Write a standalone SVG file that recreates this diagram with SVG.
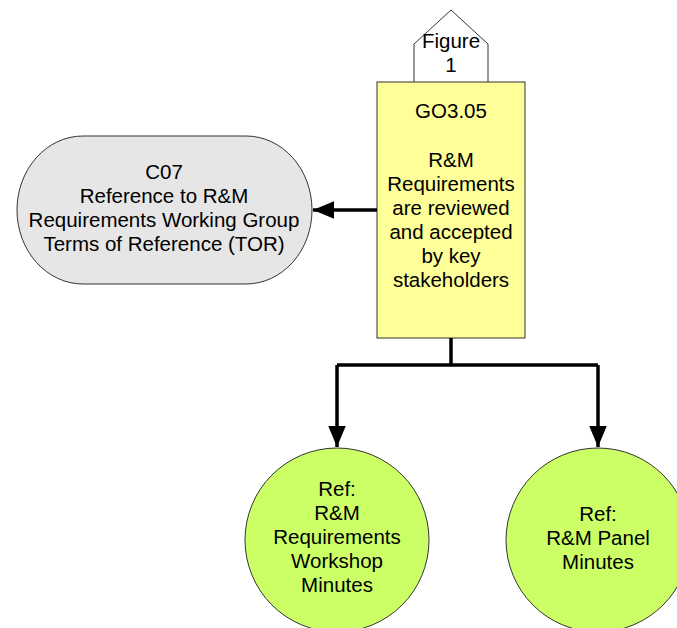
<svg xmlns="http://www.w3.org/2000/svg" width="677" height="628" viewBox="0 0 677 628">
<style>
text{font-family:"Liberation Sans",Arial,sans-serif;font-size:20.5px;fill:#000;text-anchor:middle}
.n{stroke:#333;stroke-width:1}
.c{fill:none;stroke:#000;stroke-width:3.5}
</style>
<defs>
<marker id="ah" viewBox="0 0 10 10" refX="10" refY="5" markerWidth="6" markerHeight="5" orient="auto" markerUnits="strokeWidth" preserveAspectRatio="none">
<path d="M0,0 L10,5 L0,10 Z" fill="#000"/>
</marker>
</defs>
<rect width="677" height="628" fill="#fff"/>
<g id="fig1">
<path class="n" d="M414,82 L414,44 L451,10 L488,44 L488,82" fill="#fff"/>
<text x="451" y="48">Figure</text>
<text x="451" y="72">1</text>
</g>
<g id="go305">
<rect class="n" x="377" y="82" width="148" height="256" fill="#FFFF99"/>
<text x="451" y="118">GO3.05</text>
<text x="451" y="167">R&amp;M</text>
<text x="451" y="191">Requirements</text>
<text x="451" y="215">are reviewed</text>
<text x="451" y="239">and accepted</text>
<text x="451" y="263">by key</text>
<text x="451" y="287">stakeholders</text>
</g>
<g id="c07">
<rect class="n" x="17" y="136" width="295" height="148" rx="66" ry="74" fill="#E6E6E6"/>
<text x="164" y="179">C07</text>
<text x="164" y="203">Reference to R&amp;M</text>
<text x="164" y="227">Requirements Working Group</text>
<text x="164" y="251">Terms of Reference (TOR)</text>
</g>
<g id="ref1">
<circle class="n" cx="337" cy="540" r="92" fill="#CCFF66"/>
<text x="337" y="496">Ref:</text>
<text x="337" y="520">R&amp;M</text>
<text x="337" y="544">Requirements</text>
<text x="337" y="568">Workshop</text>
<text x="337" y="592">Minutes</text>
</g>
<g id="ref2">
<circle class="n" cx="598" cy="540" r="92" fill="#CCFF66"/>
<text x="598" y="521">Ref:</text>
<text x="598" y="545">R&amp;M Panel</text>
<text x="598" y="569">Minutes</text>
</g>
<g id="connectors">
<path class="c" d="M377,210 L313,210" marker-end="url(#ah)"/>
<path class="c" d="M451,338 L451,365 M337,365 L598,365"/>
<path class="c" d="M337,365 L337,447" marker-end="url(#ah)"/>
<path class="c" d="M598,365 L598,447" marker-end="url(#ah)"/>
</g>
</svg>
